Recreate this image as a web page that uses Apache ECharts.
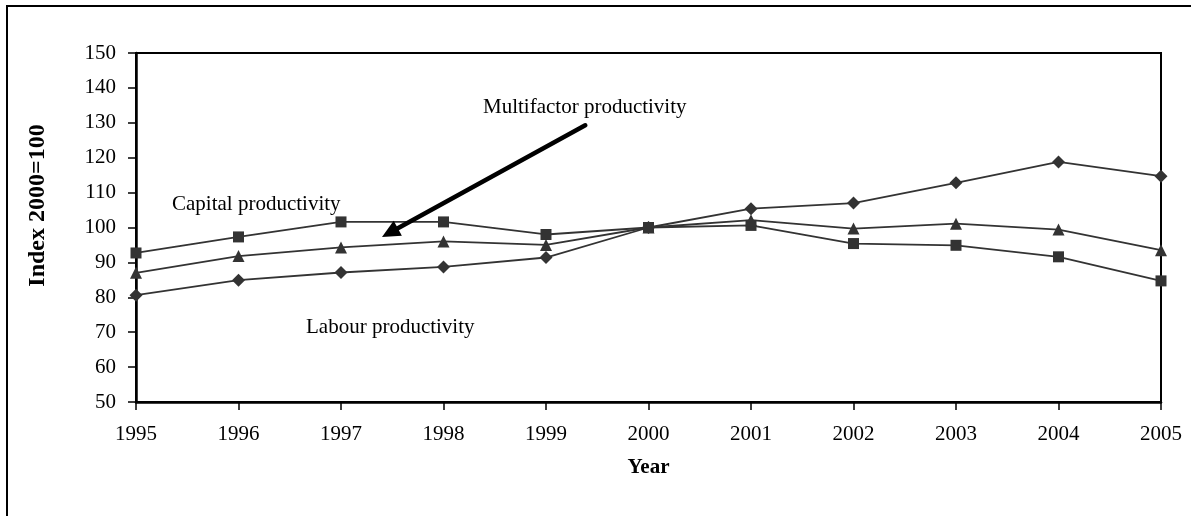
<!DOCTYPE html>
<html>
<head>
<meta charset="utf-8">
<script src="https://cdn.jsdelivr.net/npm/echarts@6/dist/echarts.min.js"></script>
<style>
html,body{margin:0;padding:0;background:#fff;}
#chart{width:1191px;height:516px;}
</style>
</head>
<body>
<div id="chart"></div>
<script>
const years = ['1995','1996','1997','1998','1999','2000','2001','2002','2003','2004','2005'];
const labourProductivity = [80.6, 84.9, 87.1, 88.7, 91.4, 100, 105.4, 107.0, 112.8, 118.8, 114.7];
const capitalProductivity = [92.7, 97.3, 101.6, 101.6, 98.0, 100, 100.6, 95.4, 94.9, 91.6, 84.7];
const multifactorProductivity = [87.0, 91.8, 94.3, 96.0, 95.0, 100, 102.1, 99.7, 101.1, 99.4, 93.5];
const yTicks = {min: 50, max: 150, interval: 10};

const FONT = '"Liberation Serif", "Times New Roman", serif';
const chart = echarts.init(document.getElementById('chart'), null, {renderer: 'canvas'});

function lineSeries(name, data, symbol, size) {
  return {
    name: name, type: 'line', data: data,
    symbol: symbol, symbolSize: size, showSymbol: true,
    lineStyle: {color: '#333333', width: 1.8},
    itemStyle: {color: '#333333'},
    animation: false, z: 3
  };
}

chart.setOption({
  backgroundColor: '#ffffff',
  animation: false,
  grid: {left: 136, right: 30, top: 53, bottom: 114, show: true, borderColor: '#000', borderWidth: 2, backgroundColor: 'transparent'},
  xAxis: {
    type: 'category', data: years, boundaryGap: false,
    name: 'Year', nameLocation: 'middle', nameGap: 55,
    nameTextStyle: {fontFamily: FONT, fontSize: 21, fontWeight: 'bold', color: '#000'},
    axisLine: {lineStyle: {color: '#000', width: 2.5}},
    axisTick: {show: true, inside: false, length: 8, lineStyle: {color: '#000', width: 1.5}, alignWithLabel: true},
    axisLabel: {fontFamily: FONT, fontSize: 21, color: '#000', margin: 22},
    splitLine: {show: false}
  },
  yAxis: {
    type: 'value', min: yTicks.min, max: yTicks.max, interval: yTicks.interval,
    name: 'Index 2000=100', nameLocation: 'middle', nameGap: 86, nameRotate: 90,
    nameTextStyle: {fontFamily: FONT, fontSize: 24, fontWeight: 'bold', color: '#000', padding: [0, 0, 0, 44]},
    axisLine: {show: true, lineStyle: {color: '#000', width: 2.5}},
    axisTick: {show: true, inside: false, length: 8, lineStyle: {color: '#000', width: 1.5}},
    axisLabel: {fontFamily: FONT, fontSize: 21, color: '#000', margin: 20},
    splitLine: {show: false}
  },
  series: [
    lineSeries('Labour productivity', labourProductivity, 'diamond', 13),
    lineSeries('Capital productivity', capitalProductivity, 'rect', 11),
    lineSeries('Multifactor productivity', multifactorProductivity, 'triangle', 12)
  ]
});

// Convert a fractional category position + value into pixels
function toPx(xIdx, yVal) {
  const i = Math.floor(xIdx), f = xIdx - i;
  const a = chart.convertToPixel({gridIndex: 0}, [i, yVal]);
  const b = chart.convertToPixel({gridIndex: 0}, [i + 1, yVal]);
  return [a[0] + (b[0] - a[0]) * f, a[1]];
}

const tail = toPx(4.383, 129.3);
const tip = toPx(2.40, 97.3);
const dx = tip[0] - tail[0], dy = tip[1] - tail[1];
const len = Math.sqrt(dx*dx + dy*dy);
const ux = dx/len, uy = dy/len;
const headLen = 18, headHalf = 8.5;
const base = [tip[0] - ux*headLen, tip[1] - uy*headLen];
const nx = -uy, ny = ux;

chart.setOption({
  graphic: [
    {type: 'rect', shape: {x: 7, y: 6, width: 1200, height: 600}, style: {fill: 'none', stroke: '#000', lineWidth: 2}, silent: true, z: 1},
    {type: 'text', x: 172, y: 204, style: {text: 'Capital productivity', font: '21px ' + FONT, fill: '#000', verticalAlign: 'middle', align: 'left'}, z: 10},
    {type: 'text', x: 483, y: 107, style: {text: 'Multifactor productivity', font: '21px ' + FONT, fill: '#000', verticalAlign: 'middle', align: 'left'}, z: 10},
    {type: 'text', x: 306, y: 327, style: {text: 'Labour productivity', font: '21px ' + FONT, fill: '#000', verticalAlign: 'middle', align: 'left'}, z: 10},
    {type: 'line', shape: {x1: tail[0], y1: tail[1], x2: base[0] + ux*2, y2: base[1] + uy*2}, style: {stroke: '#000', lineWidth: 4.5, lineCap: 'round'}, z: 10},
    {type: 'polygon', shape: {points: [tip, [base[0] + nx*headHalf, base[1] + ny*headHalf], [base[0] - nx*headHalf, base[1] - ny*headHalf]]}, style: {fill: '#000'}, z: 10}
  ]
});
</script>
</body>
</html>
